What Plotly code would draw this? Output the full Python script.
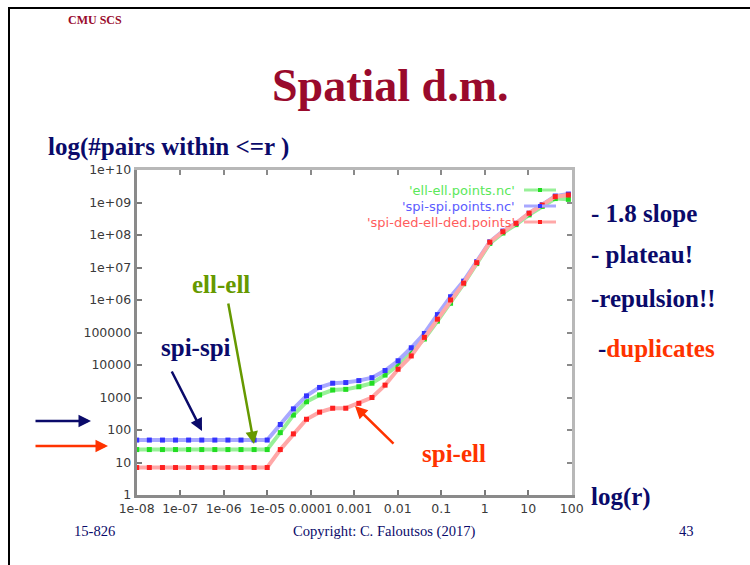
import plotly.graph_objects as go

# ---------------- data ----------------
r_values = [1.0e-8, 1.95e-8, 3.91e-8, 7.81e-8, 1.56e-7, 3.13e-7, 6.25e-7, 1.25e-6,
            2.5e-6, 5e-6, 1e-5, 2e-5, 4e-5, 8e-5, 1.6e-4, 3.2e-4, 6.4e-4, 1.28e-3,
            2.56e-3, 5.12e-3, 1.02e-2, 2.05e-2, 4.1e-2, 8.19e-2, 0.164, 0.328, 0.655,
            1.31, 2.62, 5.24, 10.5, 21.0, 41.9, 83.9]

ell_ell = [25, 25, 25, 25, 25, 25, 25, 25, 25, 25, 25,
           83, 288, 741, 1200, 1700, 1780, 2140, 2750, 4900, 10000,
           26300, 63100, 224000, 794000, 3.16e6, 1.32e7, 5.5e7, 1.15e8,
           2.09e8, 4.17e8, 7.59e8, 1.32e9, 1.25e9]

spi_spi = [49, 49, 49, 49, 49, 49, 49, 49, 49, 49, 49,
           148, 447, 1120, 2040, 2750, 2880, 3310, 4070, 6760, 13500,
           33900, 93300, 355000, 1.26e6, 3.8e6, 1.51e7, 6.17e7, 1.32e8,
           2.29e8, 4.68e8, 8.5e8, 1.58e9, 1.82e9]

spi_ell = [7, 7, 7, 7, 7, 7, 7, 7, 7, 7, 7,
           25, 76, 214, 355, 468, 468, 661, 1000, 2400, 7400,
           19000, 70800, 257000, 1.0e6, 3.3e6, 1.41e7, 6.0e7, 1.26e8,
           2.29e8, 4.68e8, 8.3e8, 1.51e9, 1.7e9]

series_names = ["'ell-ell.points.nc'", "'spi-spi.points.nc'", "'spi-ded-ell-ded.points'"]

x_tickvals = [1e-8, 1e-7, 1e-6, 1e-5, 1e-4, 1e-3, 1e-2, 1e-1, 1, 10, 100]
x_ticktext = ["1e-08", "1e-07", "1e-06", "1e-05", "0.0001", "0.001", "0.01", "0.1", "1", "10", "100"]
y_tickvals = [1, 10, 100, 1e3, 1e4, 1e5, 1e6, 1e7, 1e8, 1e9, 1e10]
y_ticktext = ["1", "10", "100", "1000", "10000", "100000", "1e+06", "1e+07", "1e+08", "1e+09", "1e+10"]

# ---------------- helpers ----------------
W, H = 750, 565
def px(x):
    return x / W
def py(y):
    return 1 - y / H

NAVY = "#0a0a6a"
DRED = "#990a2c"
ORANGE = "#ff3300"
OLIVE = "#669900"
SERIF = "Liberation Serif, Times New Roman, serif"
TICKFONT = "DejaVu Sans, Verdana, sans-serif"

fig = go.Figure()

styles = [
    (ell_ell, "#98f098", "#22dd22"),
    (spi_spi, "#a8a8ff", "#3535ff"),
    (spi_ell, "#ffa8a8", "#ff2020"),
]
for (vals, lc, mc), name in zip(styles, series_names):
    fig.add_trace(go.Scatter(
        x=r_values, y=vals, mode="lines+markers", name=name,
        line=dict(color=lc, width=4),
        marker=dict(symbol="square", size=5, color=mc, line=dict(width=0)),
        showlegend=False, cliponaxis=False,
    ))

x0, x1 = 136.7, 571.7
y0, y1 = 170, 495
xdom = [px(x0), px(x1)]
ydom = [1 - y1 / H, 1 - y0 / H]

main_axis = dict(
    showline=True, linecolor="#8a8a8a", linewidth=3, mirror=False,
    ticks="inside", ticklen=5, tickwidth=2, tickcolor="#7a7a7a",
    showgrid=False, zeroline=False, tickangle=0,
    tickfont=dict(family=TICKFONT, size=12.5, color="#3a3a3a"),
)
mirror_axis = dict(
    showline=True, linecolor="#b8b8b8", linewidth=3,
    ticks="inside", ticklen=5, tickwidth=2, tickcolor="#8a8a8a",
    showgrid=False, zeroline=False, showticklabels=False,
)
fig.update_layout(
    xaxis=dict(type="log", range=[-8, 2], tickvals=x_tickvals, ticktext=x_ticktext,
               domain=xdom, anchor="y", **main_axis),
    yaxis=dict(type="log", range=[0, 10], tickvals=y_tickvals, ticktext=y_ticktext,
               domain=ydom, anchor="x", **main_axis),
    xaxis2=dict(type="log", range=[-8, 2], tickvals=x_tickvals, overlaying="x",
                side="top", anchor="y", **mirror_axis),
    yaxis2=dict(type="log", range=[0, 10], tickvals=y_tickvals, overlaying="y",
                side="right", anchor="x", **mirror_axis),
)
# invisible trace to activate mirror axes
fig.add_trace(go.Scatter(x=[1e-3], y=[10], xaxis="x2", yaxis="y2", mode="markers",
                         marker=dict(opacity=0), showlegend=False, hoverinfo="skip"))

annotations = []
def text(x, y, s, size, color, family=SERIF, xanchor="left", bold=True):
    annotations.append(dict(
        x=px(x), y=py(y), xref="paper", yref="paper", text=(f"<b>{s}</b>" if bold else s),
        showarrow=False, xanchor=xanchor, yanchor="middle", borderpad=0,
        font=dict(family=family, size=size, color=color)))

text(67, 20, "CMU SCS", 12, DRED)
text(390, 86, "Spatial d.m.", 46, DRED, xanchor="center")
text(47, 147, "log(#pairs within &lt;=r )", 25, NAVY)
text(590, 213, "- 1.8 slope", 25, NAVY)
text(590, 254, "- plateau!", 25, NAVY)
text(590, 298, "-repulsion!!", 25, NAVY)
text(597, 348, "-<span style='color:" + ORANGE + "'>duplicates</span>", 25, NAVY)
text(191, 284, "ell-ell", 25, OLIVE)
text(160, 347, "spi-spi", 25, NAVY)
text(421, 453, "spi-ell", 25, ORANGE)
text(590, 497, "log(r)", 25, NAVY)
text(94, 531, "15-826", 14.6, NAVY, xanchor="center", bold=False)
text(384, 531, "Copyright: C. Faloutsos (2017)", 14.6, NAVY, xanchor="center", bold=False)
text(686, 531, "43", 14.6, NAVY, xanchor="center", bold=False)

# legend texts
leg_colors = ["#5ae85a", "#5c5cff", "#ff5c5c"]
leg_y = [190, 206, 222]
for name, c, yy in zip(series_names, leg_colors, leg_y):
    text(516, yy, name, 13, c, family=TICKFONT, xanchor="right", bold=False)

def arrow(xh, yh, xt, yt, color, width=2.5, size=1.0):
    annotations.append(dict(
        x=px(xh), y=py(yh), xref="paper", yref="paper",
        ax=xt - xh, ay=yt - yh, axref="pixel", ayref="pixel",
        showarrow=True, arrowhead=2, arrowsize=size, arrowwidth=width,
        arrowcolor=color, text=""))

arrow(202, 431, 171, 370, NAVY)
arrow(254, 444, 228, 302, OLIVE)
arrow(355, 406, 395, 445, ORANGE)
arrow(91, 421, 34, 421, NAVY)
arrow(108, 446, 34, 446, ORANGE)

shapes = []
# slide border
shapes.append(dict(type="line", xref="paper", yref="paper", x0=px(9), x1=px(9), y0=py(8), y1=py(566),
                   line=dict(color="black", width=2)))
shapes.append(dict(type="line", xref="paper", yref="paper", x0=px(8), x1=px(751), y0=py(8), y1=py(8),
                   line=dict(color="black", width=2)))
# legend samples
leg_line = ["#98f098", "#a8a8ff", "#ffa8a8"]
leg_mark = ["#22dd22", "#3535ff", "#ff2020"]
for lc, mc, yy in zip(leg_line, leg_mark, leg_y):
    shapes.append(dict(type="line", xref="paper", yref="paper", x0=px(524), x1=px(556),
                       y0=py(yy), y1=py(yy), line=dict(color=lc, width=3)))
    shapes.append(dict(type="rect", xref="paper", yref="paper", x0=px(538), x1=px(542),
                       y0=py(yy + 2), y1=py(yy - 2), line=dict(width=0), fillcolor=mc))

fig.update_layout(
    width=W, height=H, margin=dict(l=0, r=0, t=0, b=0, autoexpand=False),
    paper_bgcolor="white", plot_bgcolor="white",
    annotations=annotations, shapes=shapes, showlegend=False,
)

fig.write_html("out.html", post_script="document.body.style.margin='0';document.body.style.padding='0';")
